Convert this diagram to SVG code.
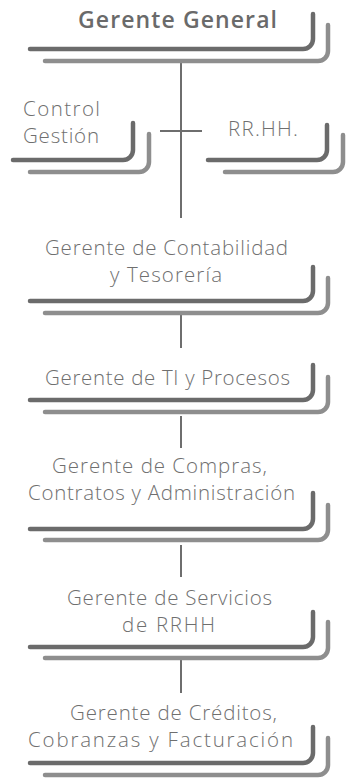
<svg xmlns="http://www.w3.org/2000/svg" width="356" height="778" viewBox="0 0 356 778">
<style>
.b1{fill:none;stroke:#6b6b6b;stroke-width:4.5;stroke-linecap:round;stroke-linejoin:round}
.b2{fill:none;stroke:#8e8e8e;stroke-width:4.5;stroke-linecap:round;stroke-linejoin:round}
.c{fill:none;stroke:#6e6e6e;stroke-width:2}
.t{font-family:"Open Sans","Liberation Sans",sans-serif;font-weight:300;font-size:20.5px;fill:#6f6f6f}
.h{font-family:"Open Sans","Liberation Sans",sans-serif;font-weight:600;font-size:23px;fill:#6a6a6a}
</style>
<rect width="356" height="778" fill="#ffffff"/>
<g id="connectors">
<path class="c" d="M181 63V218M160 131H202M181 314V348M181 416V448M181 545V577M181 660V693"/>
</g>
<g id="gerente-general">
<path class="b1" d="M30 49H303A10 10 0 0 0 313 39V14"/>
<path class="b2" d="M45 61H318A10 10 0 0 0 328 51V25"/>
<text class="h" x="78" y="28" textLength="199" lengthAdjust="spacing">Gerente General</text>
</g>
<g id="control-gestion">
<path class="b1" d="M13 160H123A10 10 0 0 0 133 150V123"/>
<path class="b2" d="M30 172H139A10 10 0 0 0 149 162V134"/>
<text class="t" x="23" y="116" textLength="77" lengthAdjust="spacing">Control</text>
<text class="t" x="23" y="143" textLength="76" lengthAdjust="spacing">Gestión</text>
</g>
<g id="rrhh">
<path class="b1" d="M208 160H317A10 10 0 0 0 327 150V125"/>
<path class="b2" d="M225 172H333A10 10 0 0 0 343 162V135"/>
<text class="t" x="228" y="136" textLength="70" lengthAdjust="spacing">RR.HH.</text>
</g>
<g id="contabilidad">
<path class="b1" d="M30 301H303A10 10 0 0 0 313 291V267"/>
<path class="b2" d="M45 313H318A10 10 0 0 0 328 303V278"/>
<text class="t" x="45" y="255" textLength="243" lengthAdjust="spacing">Gerente de Contabilidad</text>
<text class="t" x="110" y="282" textLength="112" lengthAdjust="spacing">y Tesorería</text>
</g>
<g id="ti-procesos">
<path class="b1" d="M30 400H303A10 10 0 0 0 313 390V365"/>
<path class="b2" d="M45 412H318A10 10 0 0 0 328 402V377"/>
<text class="t" x="45" y="385" textLength="245" lengthAdjust="spacing">Gerente de TI y Procesos</text>
</g>
<g id="compras">
<path class="b1" d="M30 529H303A10 10 0 0 0 313 519V493"/>
<path class="b2" d="M45 540H318A10 10 0 0 0 328 530V505"/>
<text class="t" x="52" y="473" textLength="215" lengthAdjust="spacing">Gerente de Compras,</text>
<text class="t" x="28" y="500" textLength="267" lengthAdjust="spacing">Contratos y Administración</text>
</g>
<g id="servicios-rrhh">
<path class="b1" d="M30 647H303A10 10 0 0 0 313 637V612"/>
<path class="b2" d="M45 658H318A10 10 0 0 0 328 648V622"/>
<text class="t" x="67" y="605" textLength="205" lengthAdjust="spacing">Gerente de Servicios</text>
<text class="t" x="122" y="632" textLength="93" lengthAdjust="spacing">de RRHH</text>
</g>
<g id="creditos">
<path class="b1" d="M30 763H303A10 10 0 0 0 313 753V727"/>
<path class="b2" d="M45 775H318A10 10 0 0 0 328 765V738"/>
<text class="t" x="70" y="720" textLength="207" lengthAdjust="spacing">Gerente de Créditos,</text>
<text class="t" x="28" y="747" textLength="265" lengthAdjust="spacing">Cobranzas y Facturación</text>
</g>
</svg>
